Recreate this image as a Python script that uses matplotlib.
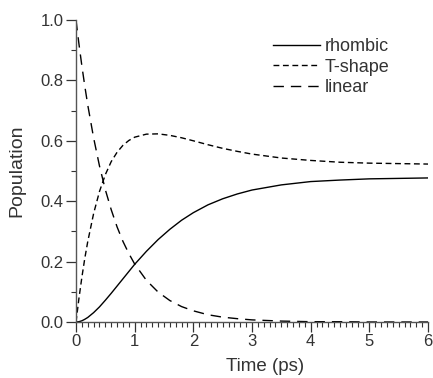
import matplotlib
matplotlib.use("Agg")
import matplotlib.pyplot as plt
from matplotlib.ticker import MultipleLocator

plt.rcParams['font.family'] = ['Liberation Sans', 'DejaVu Sans']

time_ps = [0.0, 0.05, 0.1, 0.15, 0.2, 0.3, 0.4, 0.5, 0.6, 0.7, 0.8, 0.9, 1.0, 1.2, 1.4,
           1.6, 1.8, 2.0, 2.25, 2.5, 2.75, 3.0, 3.5, 4.0, 4.5, 5.0, 6.0]
rhombic = [0.000, 0.001, 0.004, 0.009, 0.015, 0.031, 0.050, 0.072, 0.095, 0.119, 0.143,
           0.167, 0.191, 0.234, 0.273, 0.307, 0.337, 0.362, 0.388, 0.408, 0.424, 0.437,
           0.454, 0.465, 0.470, 0.474, 0.477]
t_shape = [0.000, 0.078, 0.148, 0.211, 0.266, 0.359, 0.432, 0.488, 0.531, 0.562, 0.585,
           0.601, 0.612, 0.622, 0.623, 0.618, 0.610, 0.600, 0.587, 0.575, 0.565, 0.556,
           0.543, 0.535, 0.529, 0.526, 0.523]
linear = [1.000, 0.921, 0.848, 0.781, 0.719, 0.610, 0.517, 0.438, 0.372, 0.315, 0.267,
          0.227, 0.192, 0.138, 0.099, 0.071, 0.051, 0.037, 0.024, 0.016, 0.011, 0.007,
          0.003, 0.001, 0.001, 0.000, 0.000]

fig = plt.figure(figsize=(4.33, 3.78), dpi=100)
ax = fig.add_axes([76/433, 1-322/378, 352/433, 302/378])

ax.plot(time_ps, rhombic, color='black', lw=1.0, label='rhombic')
ax.plot(time_ps, t_shape, color='black', lw=1.0, dashes=(4.2, 2.6), label='T-shape')
ax.plot(time_ps, linear, color='black', lw=1.0, dashes=(7.5, 5.0), label='linear')

ax.set_xlim(0, 6)
ax.set_ylim(0, 1.0)
ax.xaxis.set_major_locator(MultipleLocator(1))
ax.xaxis.set_minor_locator(MultipleLocator(0.1))
ax.yaxis.set_major_locator(MultipleLocator(0.2))
ax.yaxis.set_minor_locator(MultipleLocator(0.1))
ax.yaxis.set_major_formatter(matplotlib.ticker.FormatStrFormatter('%.1f'))

for s in ['top', 'right']:
    ax.spines[s].set_visible(False)
for s in ['left', 'bottom']:
    ax.spines[s].set_color('#555555')
    ax.spines[s].set_linewidth(1.0)

ax.tick_params(which='major', length=7, width=0.9, color='#333333', labelsize=12,
               labelcolor='#333333', pad=2)
ax.tick_params(which='minor', length=3.6, width=0.8, color='#333333')

ax.set_xlabel('Time (ps)', fontsize=13.5, color='#333333')
ax.xaxis.set_label_coords(0.537, -0.118)
ax.set_ylabel('Population', fontsize=14, color='#333333')
ax.yaxis.set_label_coords(-0.145, 0.5)

leg = ax.legend(loc='upper right', bbox_to_anchor=(0.917, 0.97), frameon=False, fontsize=13,
                handlelength=2.6, handletextpad=0.3, labelspacing=0.2, borderpad=0,
                labelcolor='#333333')

fig.savefig('out.png', dpi=100)
